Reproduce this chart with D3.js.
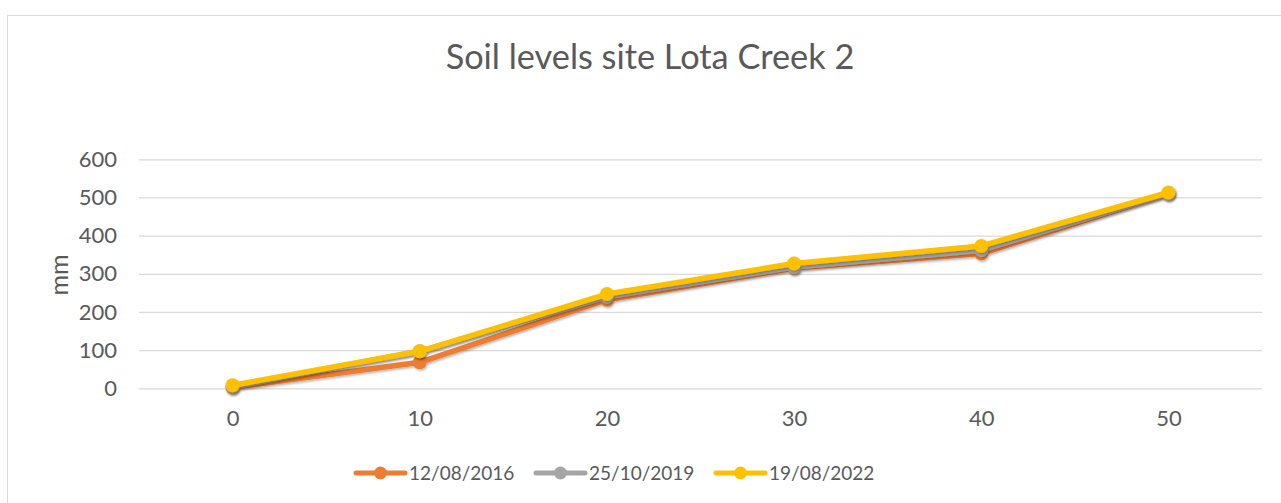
<!DOCTYPE html>
<html>
<head>
<meta charset="utf-8">
<script src="https://cdn.jsdelivr.net/npm/d3@7"></script>
<style>
  body { margin: 0; background: #fff; }
  text { font-family: Lato, "Open Sans", sans-serif; fill: #595959; }
</style>
</head>
<body>
<div id="chart"></div>
<script>
// ......................
// Data
var depths = ["0", "10", "20", "30", "40", "50"];
var seriesNames = ["12/08/2016", "25/10/2019", "19/08/2022"];
var values2016 = [2, 68, 232, 315, 353, 510];
var values2019 = [4, 97, 240, 318, 362, 510];
var values2022 = [8, 97, 247, 327, 373, 513];
var yTicks = [0, 100, 200, 300, 400, 500, 600];
var colors = ["#ED7D31", "#A5A5A5", "#FFC000"];

// ......................
// Setting up SVG area
var svgWidth = 1281;
var svgHeight = 503;

var plot = {
    left: 139,
    right: 1262,
    top: 159.3,
    bottom: 388.3
};

var svg = d3.select("#chart")
    .append("svg")
    .attr("width", svgWidth)
    .attr("height", svgHeight);

// shadow under the lines, like the original
var defs = svg.append("defs");
var shadow = defs.append("filter")
    .attr("id", "shadow")
    .attr("x", "-10%").attr("y", "-10%")
    .attr("width", "120%").attr("height", "140%");
shadow.append("feDropShadow")
    .attr("dx", 1)
    .attr("dy", 1.5)
    .attr("stdDeviation", 1)
    .attr("flood-color", "#000")
    .attr("flood-opacity", 0.3);

// chart frame
svg.append("rect")
    .attr("x", 7.5)
    .attr("y", 15.5)
    .attr("width", svgWidth + 10)
    .attr("height", svgHeight + 10)
    .attr("fill", "none")
    .attr("stroke", "#D9D9D9")
    .attr("stroke-width", 1);

// ......................
// Scales
var xScale = d3.scalePoint()
    .domain(depths)
    .range([plot.left, plot.right])
    .padding(0.5);

var yScale = d3.scaleLinear()
    .domain([0, 600])
    .range([plot.bottom, plot.top]);

// gridlines + y labels
var yAxis = d3.axisLeft(yScale)
    .tickValues(yTicks)
    .tickSize(-(plot.right - plot.left))
    .tickPadding(22);

svg.append("g")
    .attr("class", "yAxis")
    .attr("transform", `translate(${plot.left}, 0)`)
    .call(yAxis)
    .call(g => g.select(".domain").remove())
    .call(g => g.selectAll("line").attr("stroke", "#D9D9D9").attr("stroke-width", 1.3))
    .call(g => g.selectAll("text")
        .attr("font-size", 22)
        .attr("font-family", "Lato, sans-serif")
        .attr("fill", "#595959"));

// x labels
var xAxis = d3.axisBottom(xScale)
    .tickSize(0)
    .tickPadding(22);

svg.append("g")
    .attr("class", "xAxis")
    .attr("transform", `translate(0, ${plot.bottom})`)
    .call(xAxis)
    .call(g => g.select(".domain").remove())
    .call(g => g.selectAll("text")
        .attr("font-size", 22)
        .attr("font-family", "Lato, sans-serif")
        .attr("fill", "#595959"));

// title
svg.append("text")
    .attr("x", 650)
    .attr("y", 69)
    .attr("text-anchor", "middle")
    .attr("font-size", 34.3)
    .text("Soil levels site Lota Creek 2");

// y axis title
svg.append("text")
    .attr("transform", "translate(68, 275) rotate(-90)")
    .attr("text-anchor", "middle")
    .attr("font-size", 25)
    .text("mm");

// ......................
// Lines and markers
var allSeries = [values2016, values2019, values2022];

var line = d3.line()
    .x((d, i) => xScale(depths[i]))
    .y(d => yScale(d));

allSeries.forEach((vals, k) => {
    var g = svg.append("g")
        .attr("class", "series")
        .attr("filter", "url(#shadow)");

    g.append("path")
        .datum(vals)
        .attr("d", line)
        .attr("fill", "none")
        .attr("stroke", colors[k])
        .attr("stroke-width", 5.5)
        .attr("stroke-linejoin", "round");

    g.selectAll("circle")
        .data(vals)
        .enter()
        .append("circle")
        .attr("cx", (d, i) => xScale(depths[i]))
        .attr("cy", d => yScale(d))
        .attr("r", 7)
        .attr("fill", colors[k]);
});

// ......................
// Legend
var legendX = [356, 536, 716];
var legendY = 473;

var legend = svg.append("g").attr("class", "legend");

seriesNames.forEach((name, k) => {
    legend.append("line")
        .attr("x1", legendX[k])
        .attr("x2", legendX[k] + 49)
        .attr("y1", legendY)
        .attr("y2", legendY)
        .attr("stroke", colors[k])
        .attr("stroke-width", 5)
        .attr("stroke-linecap", "round");

    legend.append("circle")
        .attr("cx", legendX[k] + 24.5)
        .attr("cy", legendY)
        .attr("r", 6.5)
        .attr("fill", colors[k]);

    legend.append("text")
        .attr("x", legendX[k] + 53)
        .attr("y", legendY + 7)
        .attr("font-size", 19)
        .text(name);
});
</script>
</body>
</html>
